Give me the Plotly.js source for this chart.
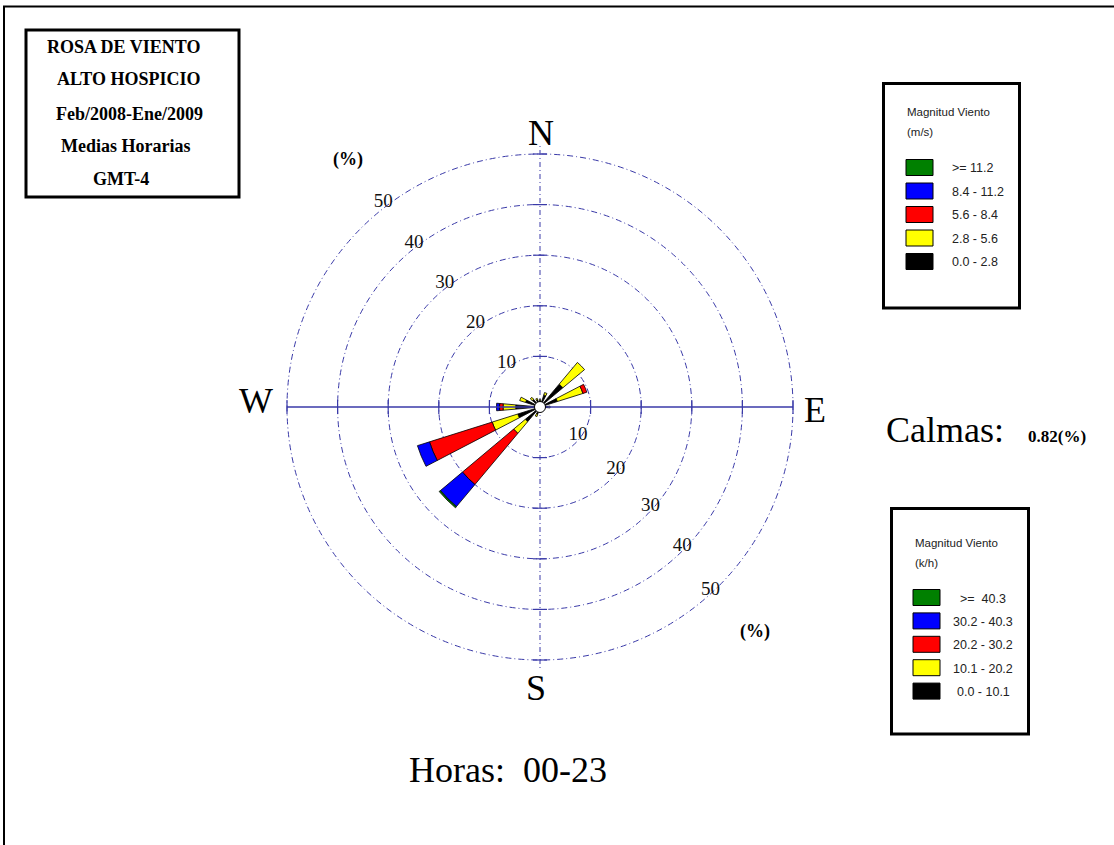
<!DOCTYPE html>
<html><head><meta charset="utf-8">
<script src="https://cdn.plot.ly/plotly-3.0.1.min.js"></script>
<style>html,body{margin:0;padding:0;background:#fff}#chart{width:1114px;height:845px}</style>
</head><body><div id="chart"></div>
<script>
// ---------- data ----------
const directions = ['N','NNE','NE','ENE','E','ESE','SE','SSE','S','SSW','SW','WSW','W','WNW','NW','NNW'];
const binLabelsMs  = ['>= 11.2','8.4 - 11.2','5.6 - 8.4','2.8 - 5.6','0.0 - 2.8'];
const binLabelsKmh = ['>=  40.3','30.2 - 40.3','20.2 - 30.2','10.1 - 20.2','0.0 - 10.1'];
// frequency (%) per direction for each speed class (m/s)
const freq_00_28  = [1.2,2.5,5.9,3.6,1.5,0.8,0.5,0.4,0.5,1.5,3.8,4.6,4.8,3.0,2.0,1.5];
const freq_28_56  = [0.3,0.5,5.6,5.3,0.5,0.1,0,0,0,0.5,3.0,5.3,2.5,1.2,0.5,0.3];
const freq_56_84  = [0,0,0,0.8,0,0,0,0,0,0,13.2,13.0,0.7,0,0,0];
const freq_84_112 = [0,0,0,0,0,0,0,0,0,0,5.7,2.5,0.6,0,0,0];
const freq_112    = [0,0,0,0,0,0,0,0,0,0,0.3,0,0,0,0,0];
const ringValues = [10,20,30,40,50];
const calmsText = '0.82(%)';
const titleLines = ['ROSA DE VIENTO','ALTO HOSPICIO','Feb/2008-Ene/2009','Medias Horarias','GMT-4'];
const hoursText = 'Horas:  00-23';

// ---------- styles ----------
const W = 1114, H = 845;
const binColors = ['#000000','#ffff00','#ff0000','#0000ff','#008000']; // inner -> outer
const legendColors = ['#008000','#0000ff','#ff0000','#ffff00','#000000']; // top -> bottom
const gridBlue = '#3a3aa8';
const serif = 'Liberation Serif, Times New Roman, serif';
const sans = 'Liberation Sans, Arial, sans-serif';
const px = x => x / W;
const py = y => 1 - y / H;

const theta = directions.map((d, i) => i * 22.5);
const series = [freq_00_28, freq_28_56, freq_56_84, freq_84_112, freq_112];
const rMax = ringValues[ringValues.length - 1];

const traces = [];
// E-W solid axis line
traces.push({type:'scatterpolar', r:[rMax,0,rMax], theta:[90,0,270], mode:'lines',
  line:{color:gridBlue, width:1.5}, hoverinfo:'skip', showlegend:false});
// cross ticks on the axes at every ring
traces.push({type:'scatterpolar', r:ringValues.concat(ringValues), theta:ringValues.map(()=>90).concat(ringValues.map(()=>270)),
  mode:'markers', marker:{symbol:'line-ns', size:10, line:{color:gridBlue, width:1.2}}, hoverinfo:'skip', showlegend:false, cliponaxis:false});
traces.push({type:'scatterpolar', r:ringValues.concat(ringValues), theta:ringValues.map(()=>0).concat(ringValues.map(()=>180)),
  mode:'markers', marker:{symbol:'line-ew', size:10, line:{color:gridBlue, width:1.2}}, hoverinfo:'skip', showlegend:false, cliponaxis:false});

series.forEach((s, k) => {
  traces.push({type:'barpolar', r:s, theta:theta, width:theta.map(()=>10),
    marker:{color:binColors[k], line:{color:'#000000', width:0.8}},
    hoverinfo:'skip', showlegend:false});
});
// calm circle at the centre
traces.push({type:'scatterpolar', r:[0], theta:[0], mode:'markers',
  marker:{size:11, color:'#ffffff', line:{color:'#000000', width:1}}, hoverinfo:'skip', showlegend:false});
// ring labels (two sets)
traces.push({type:'scatterpolar', r:ringValues.map(v=>v+0.9), theta:ringValues.map(()=>322.5), mode:'text',
  text:ringValues.map(String), textfont:{family:serif, size:19, color:'#111'}, cliponaxis:false, hoverinfo:'skip', showlegend:false});
traces.push({type:'scatterpolar', r:ringValues.map(v=>v-0.6), theta:ringValues.map(v=>124.5+0.25*v), mode:'text',
  text:ringValues.map(String), textfont:{family:serif, size:19, color:'#111'}, cliponaxis:false, hoverinfo:'skip', showlegend:false});

const annotations = [];
const shapes = [];
function ann(text, x, y, size, opt) {
  opt = opt || {};
  annotations.push({text:text, x:px(x), y:py(y), xref:'paper', yref:'paper', showarrow:false,
    xanchor:opt.xanchor||'center', yanchor:'middle',
    font:{family:opt.family||serif, size:size, color:opt.color||'#000', weight:opt.weight||'normal'}});
}
function rect(x0,y0,x1,y1,lw,fill){
  shapes.push({type:'rect', xref:'paper', yref:'paper', x0:px(x0), x1:px(x1), y0:py(y0), y1:py(y1),
    line:{color:'#000', width:lw}, fillcolor:fill||'rgba(0,0,0,0)'});
}

// compass letters
ann('N', 540.5, 133, 36); ann('S', 536, 688, 36); ann('W', 255.5, 401, 36); ann('E', 815, 410, 36);
ann('(%)', 348, 159, 18, {weight:'bold'}); ann('(%)', 755, 631, 18, {weight:'bold'});
ann('Calmas:', 945, 430, 36);
ann(calmsText, 1057, 436, 17, {weight:'bold'});
ann(hoursText, 508, 770, 36);

// title box
rect(26, 30, 239, 197, 3);
const titleX = [123.5, 129, 129, 125, 121];
const titleY = [47, 79, 114, 146, 179];
titleLines.forEach((t,i)=> ann(t, titleX[i], titleY[i], 18, {weight:'bold'}));

// outer frame
rect(4, 6.5, 1125, 870, 2);

// legend (m/s)
rect(883.5, 83.5, 1019.5, 308, 3);
ann('Magnitud Viento', 905, 112, 11.5, {family:sans, xanchor:'left', color:'#222'});
ann('(m/s)', 905, 132, 11.5, {family:sans, xanchor:'left', color:'#222'});
binLabelsMs.forEach((t,i)=>{
  const yc = 167.5 + i*23.5;
  rect(906, yc-8, 933, yc+8, 1, legendColors[i]);
  ann(t, 950, yc+1, 12.5, {family:sans, xanchor:'left', color:'#222'});
});
// legend (k/h)
rect(891.5, 508.5, 1028.5, 734, 3);
ann('Magnitud Viento', 913, 543, 11.5, {family:sans, xanchor:'left', color:'#222'});
ann('(k/h)', 913, 563, 11.5, {family:sans, xanchor:'left', color:'#222'});
binLabelsKmh.forEach((t,i)=>{
  const yc = 597.5 + i*23.4;
  rect(913, yc-8, 940, yc+8, 1, legendColors[i]);
  ann(t, 983, yc+1, 12.5, {family:sans, color:'#222'});
});

// polar area: ring 50 sits at 253 px from the centre; range extended a little so the ring is drawn
const rangeMax = 52;
const R = 253 * rangeMax / rMax, cx = 540, cy = 407;
const layout = {
  width:W, height:H, margin:{l:0,r:0,t:0,b:0}, paper_bgcolor:'#ffffff', showlegend:false,
  polar:{
    domain:{x:[px(cx-R), px(cx+R)], y:[py(cy+R), py(cy-R)]},
    bgcolor:'rgba(0,0,0,0)', barmode:'stack',
    angularaxis:{rotation:90, direction:'clockwise', tickvals:[0,180], showticklabels:false, ticks:'',
      showline:false, showgrid:true, gridcolor:gridBlue, gridwidth:1, griddash:'5px,3px,1px,3px'},
    radialaxis:{range:[0,rangeMax], tickvals:ringValues, showticklabels:false, ticks:'', showline:false,
      showgrid:true, gridcolor:gridBlue, gridwidth:1, griddash:'6px,3px,1px,3px'}
  },
  annotations:annotations, shapes:shapes
};
Plotly.newPlot('chart', traces, layout, {staticPlot:true, displayModeBar:false});
</script></body></html>
